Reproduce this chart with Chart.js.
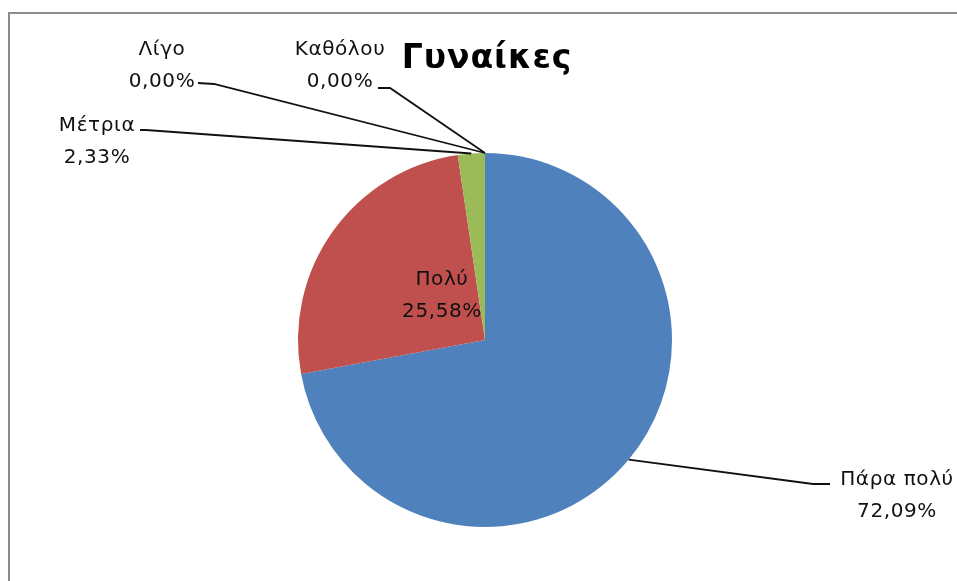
<!DOCTYPE html>
<html lang="el">
<head>
<meta charset="utf-8">
<script src="https://cdn.jsdelivr.net/npm/chart.js@4.4.0/dist/chart.umd.min.js"></script>
<title>Γυναίκες</title>
<style>
    body { margin: 0; background: #fff; }
    #frame {
        position: absolute; left: 8px; top: 12px; right: 0; bottom: 0;
        border-top: 2px solid #8c8c8c; border-left: 2px solid #8c8c8c;
    }
    #pie { position: absolute; left: 0; top: 0; }
</style>
</head>
<body>
<div id="frame"></div>
<canvas id="pie" width="957" height="581"></canvas>
<script>
// data
const categories = ['Πάρα πολύ', 'Πολύ', 'Μέτρια', 'Λίγο', 'Καθόλου'];
const shares = [72.09, 25.58, 2.33, 0, 0];
const colours = ['#4F81BD', '#C0504D', '#9BBB59', '#8064A2', '#4BACC6'];
const chartTitle = 'Γυναίκες';

// where each data label sits (text centre, first baseline) and its leader line elbow/end
const labelPlace = [
    { x: 897, y: 485, inside: false, end: [830, 484], elbow: [813, 484] },
    { x: 442, y: 285, inside: true },
    { x: 97,  y: 131, inside: false, end: [140, 130], elbow: [146, 130] },
    { x: 162, y: 55,  inside: false, end: [198, 83],  elbow: [214, 84] },
    { x: 340, y: 55,  inside: false, end: [378, 88],  elbow: [390, 88] }
];

function pct(v) { return v.toFixed(2).replace('.', ',') + '%'; }

const labelsPlugin = {
    id: 'pieLabels',
    afterDraw(chart) {
        const ctx = chart.ctx;
        const meta = chart.getDatasetMeta(0);
        ctx.save();
        // title
        ctx.fillStyle = '#000';
        ctx.font = 'bold 33px "DejaVu Sans"';
        ctx.letterSpacing = '1px';
        ctx.textAlign = 'center';
        ctx.textBaseline = 'alphabetic';
        ctx.fillText(chartTitle, 487, 68);

        ctx.font = '20px "DejaVu Sans"';
        ctx.letterSpacing = '0.6px';
        meta.data.forEach((arc, i) => {
            const p = arc.getProps(['x', 'y', 'startAngle', 'endAngle', 'outerRadius'], true);
            const mid = (p.startAngle + p.endAngle) / 2;
            const ax = p.x + Math.cos(mid) * p.outerRadius;
            const ay = p.y + Math.sin(mid) * p.outerRadius;
            const lp = labelPlace[i];
            if (!lp.inside) {
                ctx.strokeStyle = '#111';
                ctx.lineWidth = 1.8;
                ctx.beginPath();
                ctx.moveTo(lp.end[0], lp.end[1]);
                ctx.lineTo(lp.elbow[0], lp.elbow[1]);
                ctx.lineTo(ax, ay);
                ctx.stroke();
            }
            ctx.fillStyle = '#111';
            ctx.fillText(categories[i], lp.x, lp.y);
            ctx.fillText(pct(shares[i]), lp.x, lp.y + 32);
        });
        ctx.restore();
    }
};

new Chart(document.getElementById('pie'), {
    type: 'pie',
    data: {
        labels: categories,
        datasets: [{
            data: shares,
            backgroundColor: colours,
            borderWidth: 0
        }]
    },
    options: {
        responsive: false,
        animation: false,
        layout: { padding: { left: 298, right: 285, top: 153, bottom: 54 } },
        plugins: {
            legend: { display: false },
            title: { display: false },
            tooltip: { enabled: false }
        }
    },
    plugins: [labelsPlugin]
});
</script>
</body>
</html>
